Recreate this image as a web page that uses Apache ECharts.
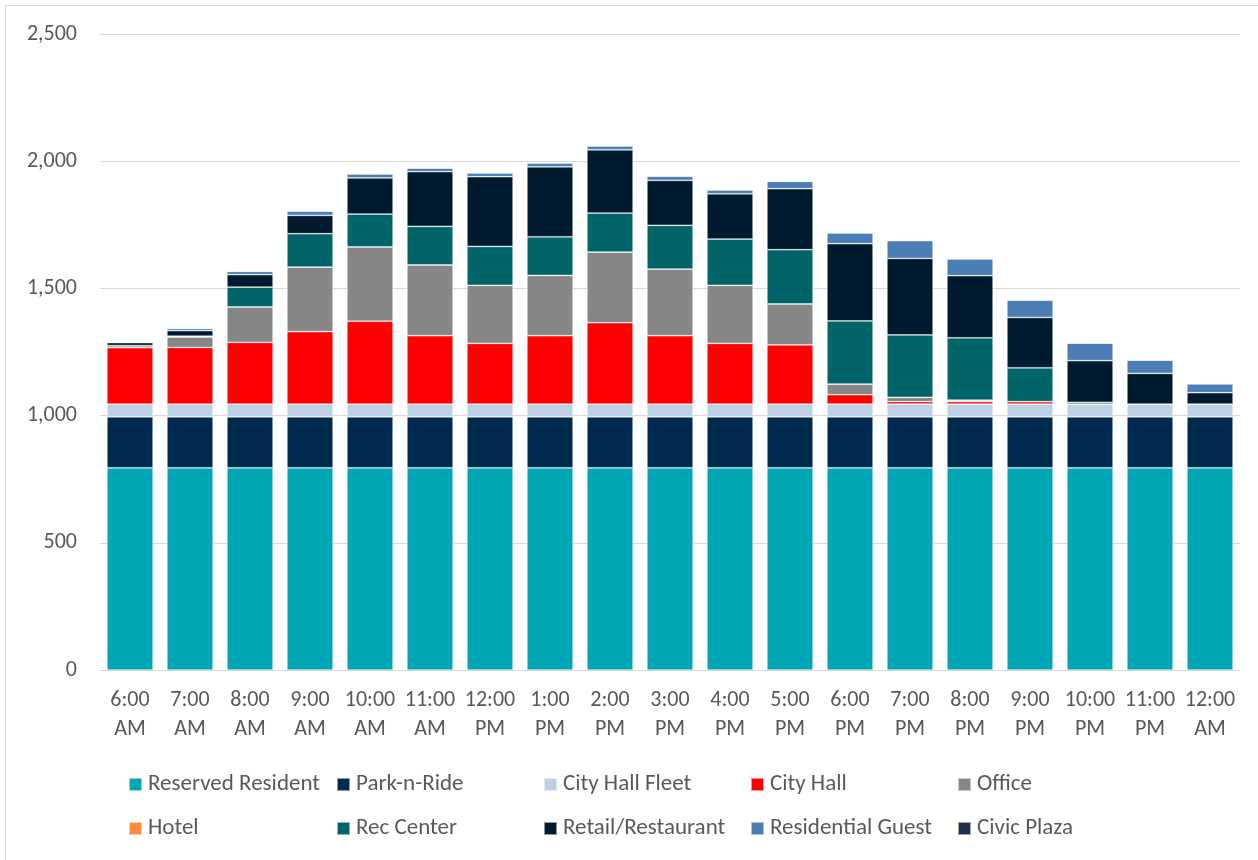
<!DOCTYPE html>
<html>
<head>
<meta charset="utf-8">
<script src="https://cdn.jsdelivr.net/npm/echarts@6/dist/echarts.min.js"></script>
<style>
  html, body { margin: 0; padding: 0; background: #ffffff; }
  #chart { width: 1258px; height: 860px; }
</style>
</head>
<body>
<div id="chart"></div>
<script>
// Hourly parking occupancy by user group (stacked)
const hours = ['6:00\nAM','7:00\nAM','8:00\nAM','9:00\nAM','10:00\nAM','11:00\nAM','12:00\nPM','1:00\nPM','2:00\nPM','3:00\nPM','4:00\nPM','5:00\nPM','6:00\nPM','7:00\nPM','8:00\nPM','9:00\nPM','10:00\nPM','11:00\nPM','12:00\nAM'];

const reservedResident = [795,795,795,795,795,795,795,795,795,795,795,795,795,795,795,795,795,795,795];
const parkNRide        = [200,200,200,200,200,200,200,200,200,200,200,200,200,200,200,200,200,200,200];
const cityHallFleet    = [50,50,50,50,50,50,50,50,50,50,50,50,50,50,50,50,50,50,50];
const cityHall         = [222,223,243,285,326,269,239,269,320,269,239,233,37,10,10,10,0,0,0];
const office           = [8,41,139,254,292,278,228,237,278,262,228,161,42,17,6,0,0,0,0];
const hotel            = [0,0,0,0,0,0,0,0,0,0,0,0,0,0,0,0,0,0,0];
const recCenter        = [0,3,78,131,129,152,153,152,153,172,182,213,248,245,245,133,7,0,0];
const retailRestaurant = [12,22,49,72,142,215,274,275,249,177,178,240,304,301,244,198,164,121,45];
const residentialGuest = [2,9,13,17,16,14,15,15,15,16,15,29,42,70,66,68,69,52,35];
const civicPlaza       = [0,0,0,0,0,0,0,0,0,0,0,0,0,0,0,0,0,0,0];

const yTicks = { min: 0, max: 2500, interval: 500 };

const groups = [
  { name: 'Reserved Resident', data: reservedResident, color: '#00A6B4' },
  { name: 'Park-n-Ride',       data: parkNRide,        color: '#002A4E' },
  { name: 'City Hall Fleet',   data: cityHallFleet,    color: '#BED0E4' },
  { name: 'City Hall',         data: cityHall,         color: '#FF0000' },
  { name: 'Office',            data: office,           color: '#868686' },
  { name: 'Hotel',             data: hotel,            color: '#FF8B40' },
  { name: 'Rec Center',        data: recCenter,        color: '#006468' },
  { name: 'Retail/Restaurant', data: retailRestaurant, color: '#001B2F' },
  { name: 'Residential Guest', data: residentialGuest, color: '#4A7EB4' },
  { name: 'Civic Plaza',       data: civicPlaza,       color: '#22304E' }
];

const FONT = 'Carlito, Lato, "Open Sans", sans-serif';
const TEXT = '#595959';
const FS = 22;

// legend laid out as a 5 x 2 grid
const legendCols = [128, 336, 543, 750, 957];
const legendRows = [773, 817];
const legends = groups.map((g, i) => ({
  left: legendCols[i % 5],
  top: legendRows[Math.floor(i / 5)],
  data: [g.name],
  itemWidth: 13,
  itemHeight: 13,
  icon: 'rect',
  selectedMode: false,
  padding: 0,
  textStyle: { fontFamily: FONT, fontSize: 23, color: TEXT, padding: [0, 0, 0, 1] }
}));

const chart = echarts.init(document.getElementById('chart'), null, { renderer: 'canvas' });
chart.setOption({
  animation: false,
  backgroundColor: '#ffffff',
  color: groups.map(g => g.color),
  graphic: [{
    type: 'rect',
    shape: { x: 5.5, y: 5.5, width: 1300, height: 900 },
    style: { fill: 'none', stroke: '#D9D9D9', lineWidth: 1 },
    silent: true
  }],
  grid: { left: 100, right: 18, top: 34, bottom: 190, containLabel: false },
  legend: legends,
  xAxis: {
    type: 'category',
    data: hours,
    axisLine: { lineStyle: { color: '#D9D9D9', width: 1 } },
    axisTick: { show: false },
    axisLabel: {
      interval: 0,
      margin: 16,
      fontFamily: FONT,
      fontSize: FS,
      lineHeight: 29,
      color: TEXT
    }
  },
  yAxis: {
    type: 'value',
    min: yTicks.min,
    max: yTicks.max,
    interval: yTicks.interval,
    axisLine: { show: false },
    axisTick: { show: false },
    splitLine: { lineStyle: { color: '#D9D9D9', width: 1 } },
    axisLabel: {
      margin: 23,
      fontFamily: FONT,
      fontSize: FS,
      color: TEXT,
      formatter: v => v.toLocaleString('en-US')
    }
  },
  series: groups.map(g => ({
    name: g.name,
    type: 'bar',
    stack: 'total',
    data: g.data,
    barCategoryGap: '23%',
    itemStyle: { color: g.color, borderColor: 'rgba(255,255,255,0.55)', borderWidth: 0.75 },
    emphasis: { disabled: true }
  }))
});
</script>
</body>
</html>
